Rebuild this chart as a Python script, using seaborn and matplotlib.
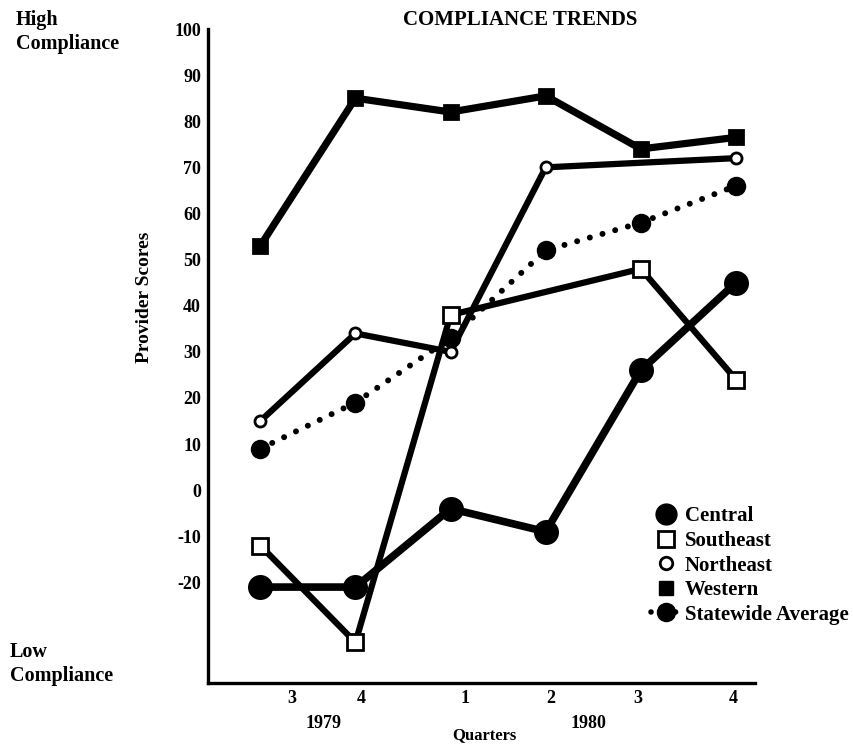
import pandas as pd
import numpy as np
import seaborn as sns
import matplotlib.pyplot as plt
from matplotlib.lines import Line2D

# quarters: 1979 Q3, Q4, 1980 Q1..Q4
quarters = ["3", "4", "1", "2", "3", "4"]
years = ["1979", "1980"]

central = [-21, -21, -4, -9, 26, 45]
southeast = [-12, -33, 38, np.nan, 48, 24]
northeast = [15, 34, 30, 70, np.nan, 72]
western = [53, 85, 82, 85.5, 74, 76.5]
statewide = [9, 19, 33, 52, 58, 66]

y_ticks = [-20, -10, 0, 10, 20, 30, 40, 50, 60, 70, 80, 90, 100]

sns.set_theme(style="white")
plt.rcParams['font.family'] = ['Liberation Serif', 'DejaVu Serif']
plt.rcParams['font.weight'] = 'bold'
for key in ['text.color', 'axes.labelcolor', 'xtick.color', 'ytick.color']:
    plt.rcParams[key] = 'black'

rows = []
for name, vals in [("Central", central), ("Southeast", southeast),
                   ("Northeast", northeast), ("Western", western),
                   ("Statewide Average", statewide)]:
    for i, v in enumerate(vals):
        rows.append({"quarter": i, "score": v, "region": name})
df = pd.DataFrame(rows).dropna()

# styles per series
styles = {
    "Western": dict(marker="s", markersize=10, markerfacecolor="black", lw=5.2),
    "Northeast": dict(marker="o", markersize=8, markerfacecolor="white", lw=4.5),
    "Southeast": dict(marker="s", markersize=12, markerfacecolor="white", lw=4.5),
    "Statewide Average": dict(marker="o", markersize=12, markerfacecolor="black", lw=4.3),
    "Central": dict(marker="o", markersize=16, markerfacecolor="black", lw=5.5),
}

fig = plt.figure(figsize=(8.54, 7.45), dpi=100)
# axes box in pixels: left 208, right 755, top 29, bottom 683
ax = fig.add_axes([208 / 854, 1 - 683 / 745, (755 - 208) / 854, (683 - 29) / 745])

for name, st in styles.items():
    sub = df[df["region"] == name]
    sns.lineplot(data=sub, x="quarter", y="score", ax=ax, color="black",
                 errorbar=None, markeredgecolor="black", markeredgewidth=2,
                 **st)
    line = ax.lines[-1]
    if name == "Statewide Average":
        line.set_linestyle((0, (0.01, 2.2)))
        line.set_dash_capstyle("round")
    else:
        line.set_solid_joinstyle("round")

ax.set_xlim(-0.55, 5.2)
ax.set_ylim(-41.8, 100)
ax.set_yticks(y_ticks)
ax.set_yticklabels([str(t) for t in y_ticks])
ax.set_xticks([0.33, 1.06, 2.15, 3.05, 3.97, 4.97])
ax.set_xticklabels(quarters)
ax.set_xlabel("")
ax.set_ylabel("")
for side in ["top", "right"]:
    ax.spines[side].set_visible(False)
for side in ["left", "bottom"]:
    ax.spines[side].set_color("black")
    ax.spines[side].set_linewidth(2.4)
ax.tick_params(direction="in", length=6, width=2, colors="black",
               labelsize=13, pad=5)
ax.grid(False)

fig.text(520 / 854, 1 - 20 / 745, "COMPLIANCE TRENDS", ha="center", va="center",
         fontsize=15, fontweight="bold")
fig.text(16 / 854, 1 - 10 / 745, "High\nCompliance", ha="left", va="top",
         fontsize=14.5, fontweight="bold", linespacing=1.3)
fig.text(10 / 854, 1 - 642 / 745, "Low\nCompliance", ha="left", va="top",
         fontsize=14.5, fontweight="bold", linespacing=1.3)
fig.text(145 / 854, 1 - 297 / 745, "Provider Scores", rotation=90, ha="center",
         va="center", fontsize=14, fontweight="bold")
fig.text(324 / 854, 1 - 723 / 745, years[0], ha="center", va="center",
         fontsize=13, fontweight="bold")
fig.text(588 / 854, 1 - 723 / 745, years[1], ha="center", va="center",
         fontsize=13, fontweight="bold")
fig.text(484 / 854, 2 / 745, "Quarters", ha="center", va="bottom",
         fontsize=12, fontweight="bold")

handles = [
    Line2D([], [], ls="none", marker="o", ms=15, mfc="black", mec="black"),
    Line2D([], [], ls="none", marker="s", ms=12, mfc="white", mec="black", mew=2),
    Line2D([], [], ls="none", marker="o", ms=9, mfc="white", mec="black", mew=2),
    Line2D([], [], ls="none", marker="s", ms=10, mfc="black", mec="black"),
    Line2D([], [], color="black", lw=4, ls=(0, (0.01, 2.2)), dash_capstyle="round",
           marker="o", ms=13, mfc="black", mec="black"),
]
labels = ["Central", "Southeast", "Northeast", "Western", "Statewide Average"]
fig.legend(handles, labels, loc="upper left",
           bbox_to_anchor=(641 / 854, 1 - 496 / 745),
           frameon=False, handlelength=1.4, handletextpad=0.2, borderpad=0,
           labelspacing=0.22, prop={"size": 15, "weight": "bold"})

plt.savefig("out.png", dpi=100)
